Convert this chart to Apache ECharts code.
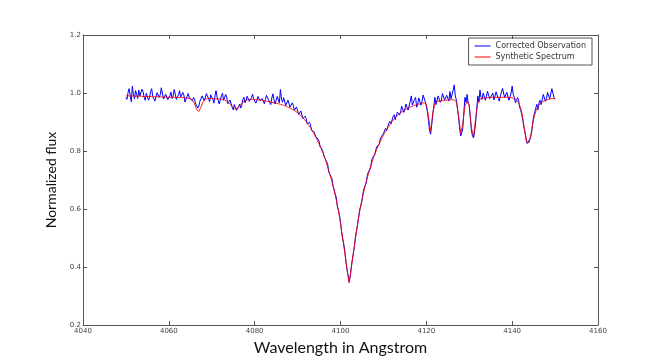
<!DOCTYPE html>
<html>
<head>
<meta charset="utf-8">
<script src="https://cdn.jsdelivr.net/npm/echarts@6/dist/echarts.min.js"></script>
<style>
  html, body { margin: 0; padding: 0; background: #fff; }
  #main { width: 665px; height: 363px; }
</style>
</head>
<body>
<div id="main"></div>
<script>
// both spectra start at 4050 A; observation every 0.25 A, synthetic every 0.5 A
var waveStart = 4050
var obsStep = 0.25
var synStep = 0.5

var xTicks = [4040, 4160, 20]
var yTicks = [0.2, 1.2, 0.2]

// corrected observation (20 samples per row = 5 A)
var obsFlux = [
  0.985, 0.978, 1.002, 1.015, 0.992, 0.970, 1.024, 0.996, 0.980, 1.008, 0.996, 0.981, 1.010, 0.990, 0.987, 1.013, 1.004, 0.984, 0.975, 0.999,
  1.000, 0.975, 0.983, 1.006, 1.015, 0.988, 0.991, 0.972, 0.978, 1.001, 1.006, 0.985, 0.994, 1.018, 1.012, 0.979, 0.982, 0.996, 0.999, 0.977,
  0.972, 0.990, 1.003, 0.981, 0.989, 1.012, 0.996, 0.978, 0.976, 0.994, 1.008, 0.986, 0.983, 1.002, 0.993, 0.969, 0.970, 0.988, 0.998, 0.983,
  0.988, 0.979, 0.972, 0.985, 0.978, 0.962, 0.960, 0.948, 0.955, 0.972, 0.968, 0.990, 0.995, 0.973, 0.976, 0.998, 1.003, 0.981, 0.970, 0.994,
  0.992, 0.978, 0.965, 0.990, 1.008, 0.986, 0.981, 0.962, 0.968, 0.991, 0.999, 0.975, 0.972, 0.995, 0.985, 0.963, 0.958, 0.976, 0.970, 0.951,
  0.942, 0.960, 0.955, 0.940, 0.935, 0.951, 0.962, 0.948, 0.958, 0.977, 0.985, 0.966, 0.975, 0.989, 0.992, 0.971, 0.970, 0.984, 0.996, 0.980,
  0.982, 0.965, 0.973, 0.988, 0.990, 0.974, 0.968, 0.981, 0.986, 0.963, 0.978, 0.992, 0.995, 0.976, 0.972, 0.960, 0.983, 0.997, 0.978, 0.962,
  0.975, 0.988, 0.982, 0.966, 1.012, 0.979, 0.968, 0.984, 0.978, 0.957, 0.960, 0.975, 0.970, 0.951, 0.953, 0.966, 0.958, 0.940, 0.944, 0.952,
  0.948, 0.926, 0.930, 0.938, 0.935, 0.912, 0.915, 0.920, 0.912, 0.893, 0.895, 0.899, 0.892, 0.871, 0.872, 0.868, 0.866, 0.850, 0.846, 0.841,
  0.834, 0.815, 0.812, 0.805, 0.800, 0.778, 0.772, 0.763, 0.756, 0.728, 0.722, 0.713, 0.705, 0.680, 0.668, 0.652, 0.641, 0.610, 0.598, 0.578,
  0.556, 0.522, 0.498, 0.480, 0.455, 0.420, 0.392, 0.372, 0.350, 0.365, 0.398, 0.425, 0.447, 0.471, 0.506, 0.528, 0.547, 0.575, 0.600, 0.611,
  0.628, 0.655, 0.672, 0.676, 0.690, 0.716, 0.728, 0.730, 0.741, 0.766, 0.778, 0.776, 0.788, 0.806, 0.816, 0.812, 0.822, 0.841, 0.849, 0.850,
  0.860, 0.866, 0.878, 0.870, 0.876, 0.895, 0.902, 0.893, 0.898, 0.918, 0.925, 0.908, 0.912, 0.934, 0.940, 0.924, 0.935, 0.955, 0.952, 0.933,
  0.945, 0.962, 0.968, 0.941, 0.946, 0.972, 0.990, 0.958, 0.960, 0.978, 0.985, 0.951, 0.962, 0.983, 0.980, 0.958, 0.972, 0.993, 0.990, 0.970,
  0.955, 0.935, 0.905, 0.870, 0.858, 0.890, 0.925, 0.955, 0.985, 0.960, 0.966, 0.990, 0.995, 0.968, 0.975, 0.998, 1.002, 0.976, 0.970, 0.992,
  0.990, 0.972, 1.005, 0.980, 0.985, 1.010, 1.028, 0.990, 0.975, 0.948, 0.915, 0.880, 0.852, 0.862, 0.880, 0.935, 0.985, 0.968, 0.995, 0.965,
  0.958, 0.915, 0.872, 0.852, 0.845, 0.866, 0.900, 0.948, 0.990, 0.968, 1.010, 0.985, 0.978, 1.000, 1.005, 0.975, 0.988, 1.006, 1.012, 0.980,
  0.975, 0.993, 1.000, 0.976, 0.980, 1.004, 1.008, 0.981, 0.972, 0.990, 0.995, 1.016, 1.012, 0.984, 0.978, 1.002, 0.998, 0.975, 0.970, 1.000,
  1.024, 0.995, 0.985, 0.966, 0.962, 0.984, 0.975, 0.950, 0.940, 0.925, 0.905, 0.880, 0.865, 0.838, 0.826, 0.822, 0.838, 0.845, 0.860, 0.892,
  0.920, 0.925, 0.948, 0.961, 0.942, 0.966, 0.975, 0.960, 0.965, 0.995, 0.990, 0.971, 0.982, 1.002, 1.008, 0.980, 0.985, 1.015, 1.012, 0.984,
  0.978
]

// synthetic spectrum (10 samples per row = 5 A)
var synFlux = [
  0.990, 0.990, 0.990, 0.990, 0.989, 0.989, 0.989, 0.989, 0.988, 0.988,
  0.988, 0.988, 0.988, 0.987, 0.987, 0.987, 0.987, 0.986, 0.986, 0.986,
  0.986, 0.985, 0.985, 0.985, 0.985, 0.984, 0.984, 0.984, 0.983, 0.982,
  0.980, 0.975, 0.962, 0.942, 0.936, 0.952, 0.970, 0.978, 0.981, 0.981,
  0.981, 0.980, 0.980, 0.980, 0.979, 0.978, 0.976, 0.972, 0.966, 0.958,
  0.950, 0.946, 0.948, 0.956, 0.965, 0.971, 0.975, 0.977, 0.978, 0.978,
  0.977, 0.977, 0.976, 0.975, 0.974, 0.972, 0.971, 0.970, 0.968, 0.967,
  0.965, 0.963, 0.961, 0.959, 0.956, 0.953, 0.950, 0.946, 0.942, 0.937,
  0.932, 0.925, 0.918, 0.910, 0.901, 0.891, 0.880, 0.868, 0.855, 0.840,
  0.825, 0.808, 0.790, 0.770, 0.745, 0.720, 0.695, 0.665, 0.632, 0.595,
  0.550, 0.500, 0.450, 0.395, 0.345, 0.395, 0.450, 0.500, 0.550, 0.595,
  0.632, 0.665, 0.695, 0.720, 0.745, 0.770, 0.790, 0.808, 0.825, 0.840,
  0.855, 0.868, 0.880, 0.891, 0.901, 0.910, 0.918, 0.925, 0.932, 0.937,
  0.942, 0.946, 0.950, 0.953, 0.956, 0.959, 0.961, 0.963, 0.965, 0.966,
  0.962, 0.920, 0.868, 0.930, 0.965, 0.971, 0.972, 0.973, 0.974, 0.975,
  0.976, 0.977, 0.977, 0.976, 0.968, 0.925, 0.860, 0.895, 0.955, 0.972,
  0.955, 0.880, 0.850, 0.915, 0.965, 0.978, 0.982, 0.983, 0.984, 0.984,
  0.985, 0.985, 0.985, 0.985, 0.985, 0.985, 0.985, 0.985, 0.985, 0.984,
  0.983, 0.981, 0.976, 0.966, 0.948, 0.912, 0.862, 0.828, 0.830, 0.868,
  0.910, 0.937, 0.953, 0.963, 0.969, 0.973, 0.976, 0.978, 0.980, 0.981,
  0.982
]

function pairs(flux, step) {
  return flux.map(function (v, i) { return [waveStart + i * step, v] })
}

var frameColor = '#555'
var tickFont = 'DejaVu Sans'
var nameFont = 'Lato'

function xAxis(pos, labels) {
  return {
    type: 'value', position: pos,
    min: xTicks[0], max: xTicks[1], interval: xTicks[2],
    axisLine: { show: true, onZero: false, lineStyle: { color: frameColor, width: 1 } },
    axisTick: { show: true, inside: true, length: 4, lineStyle: { color: frameColor } },
    axisLabel: {
      show: labels, fontSize: 7, color: '#444', fontFamily: tickFont, margin: 3,
      formatter: function (v) { return String(v) }
    },
    splitLine: { show: false }
  }
}

function yAxis(pos, labels) {
  return {
    type: 'value', position: pos,
    min: yTicks[0], max: yTicks[1], interval: yTicks[2],
    axisLine: { show: true, onZero: false, lineStyle: { color: frameColor, width: 1 } },
    axisTick: { show: true, inside: true, length: 4, lineStyle: { color: frameColor } },
    axisLabel: {
      show: labels, fontSize: 7, color: '#444', fontFamily: tickFont, margin: 2,
      formatter: function (v) { return v.toFixed(1) }
    },
    splitLine: { show: false }
  }
}

var chart = echarts.init(document.getElementById('main'))

var xBottom = xAxis('bottom', true)
xBottom.name = 'Wavelength in Angstrom'
xBottom.nameLocation = 'middle'
xBottom.nameGap = 8
xBottom.nameTextStyle = { fontSize: 16, color: '#111', fontFamily: nameFont }

var yLeft = yAxis('left', true)
yLeft.name = 'Normalized flux'
yLeft.nameLocation = 'middle'
yLeft.nameGap = 17
yLeft.nameTextStyle = { fontSize: 14, color: '#111', fontFamily: nameFont }

var option = {
  animation: false,
  backgroundColor: '#fff',
  grid: { left: 83, right: 67, top: 35, bottom: 38 },
  legend: {
    orient: 'vertical',
    right: 73,
    top: 38,
    padding: [4, 6, 4, 6],
    itemGap: 3,
    itemWidth: 16,
    itemHeight: 1,
    icon: 'rect',
    borderColor: frameColor,
    borderWidth: 1,
    textStyle: { fontSize: 8, color: '#333', fontFamily: tickFont },
    data: ['Corrected Observation', 'Synthetic Spectrum']
  },
  xAxis: [xBottom, xAxis('top', false)],
  yAxis: [yLeft, yAxis('right', false)],
  series: [
    {
      name: 'Corrected Observation',
      type: 'line',
      data: pairs(obsFlux, obsStep),
      symbol: 'none',
      color: '#0000ff',
      lineStyle: { width: 1, color: '#0000ff' }
    },
    {
      name: 'Synthetic Spectrum',
      type: 'line',
      data: pairs(synFlux, synStep),
      symbol: 'none',
      color: '#ff0000',
      lineStyle: { width: 1, color: '#ff0000', opacity: 0.85 }
    }
  ]
}
chart.setOption(option)
</script>
</body>
</html>
